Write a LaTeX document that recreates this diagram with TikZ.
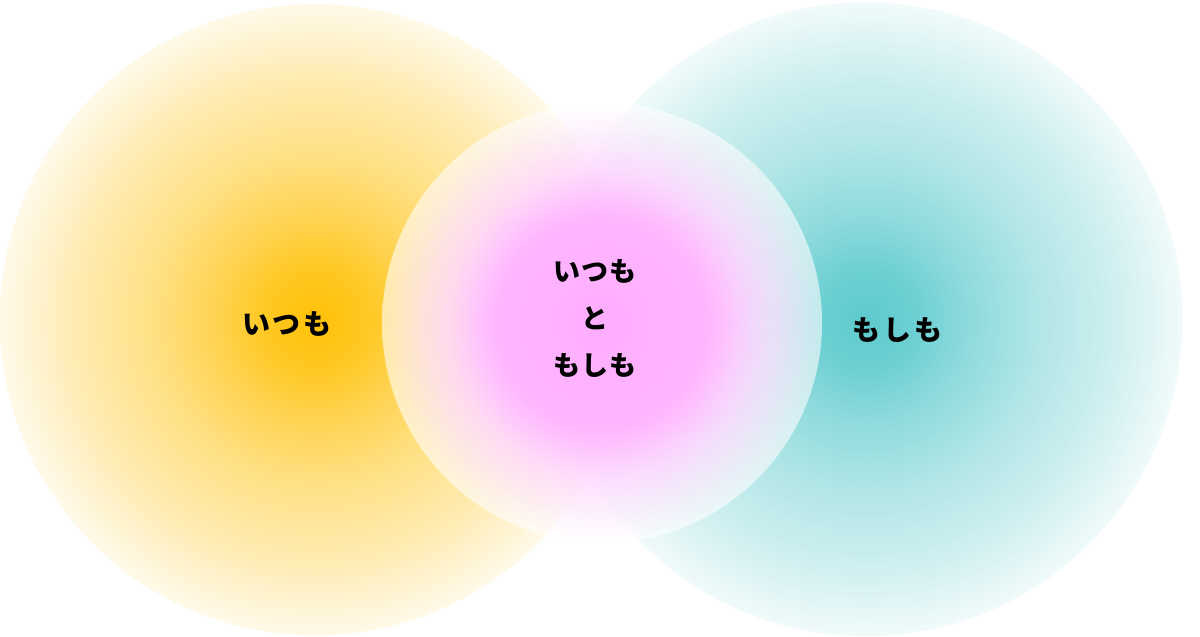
\documentclass[tikz,border=0pt]{standalone}
\usepackage{fontspec}
\newfontfamily\cjk{Noto Sans CJK JP}
\usetikzlibrary{fadings}
\definecolor{yel}{HTML}{FFC20A}
\definecolor{teal2}{HTML}{5ECBCE}
\definecolor{pkA}{HTML}{FFADFF}
\definecolor{pkB}{HTML}{FFB6FF}
\definecolor{pkC}{HTML}{FFD9FF}
\definecolor{pkD}{HTML}{FDEBFD}
\pgfdeclareradialshading{sidefadeshade}{\pgfpoint{0bp}{0bp}}{color(0bp)=(white); color(4bp)=(white!90!black); color(8bp)=(white!70!black); color(13.5bp)=(white!48!black); color(18.5bp)=(white!33!black); color(22bp)=(white!20!black); color(25bp)=(white!8!black); color(27bp)=(black); color(50bp)=(black)}
\pgfdeclarefading{sidefade}{\pgfuseshading{sidefadeshade}}
\pgfdeclareradialshading{midshade}{\pgfpoint{0bp}{0bp}}{color(0bp)=(pkA); color(12bp)=(pkB); color(17.5bp)=(pkC); color(21.5bp)=(pkD); color(25bp)=(white); color(50bp)=(white)}
\pgfdeclareradialshading{midfadeshade}{\pgfpoint{0bp}{0bp}}{color(0bp)=(white); color(13.5bp)=(white); color(20bp)=(white!80!black); color(25bp)=(white!58!black); color(50bp)=(white!58!black)}
\pgfdeclarefading{midfade}{\pgfuseshading{midfadeshade}}
\tikzset{
  side/.style={path fading=sidefade},
  mid/.style={shading=midshade, path fading=midfade},
  lbl/.style={font=\cjk\bfseries\fontsize{28}{32}\selectfont, inner sep=0pt},
  mlbl/.style={font=\cjk\bfseries\fontsize{27}{47}\selectfont, align=center, inner sep=0pt}
}
\begin{document}
\begin{tikzpicture}[x=1pt,y=-1pt]
\fill[white] (0,0) rectangle (1200,637);
\useasboundingbox (0,0) rectangle (1200,637);
\fill[yel, side] (316,319) circle[radius=316];
\fill[teal2, side] (866,319) circle[radius=317];
\shade[mid] (602,323) circle[radius=220];
\node[lbl] (itsumo) at (287,324) {い\hspace{3pt}つ\hspace{3pt}も};
\node[lbl] (moshimo) at (897,330) {も\hspace{3pt}し\hspace{3pt}も};
\node[mlbl] (both) at (595,318) {い\hspace{1pt}つ\hspace{1pt}も\\と\\も\hspace{1pt}し\hspace{1pt}も};
\end{tikzpicture}
\end{document}
